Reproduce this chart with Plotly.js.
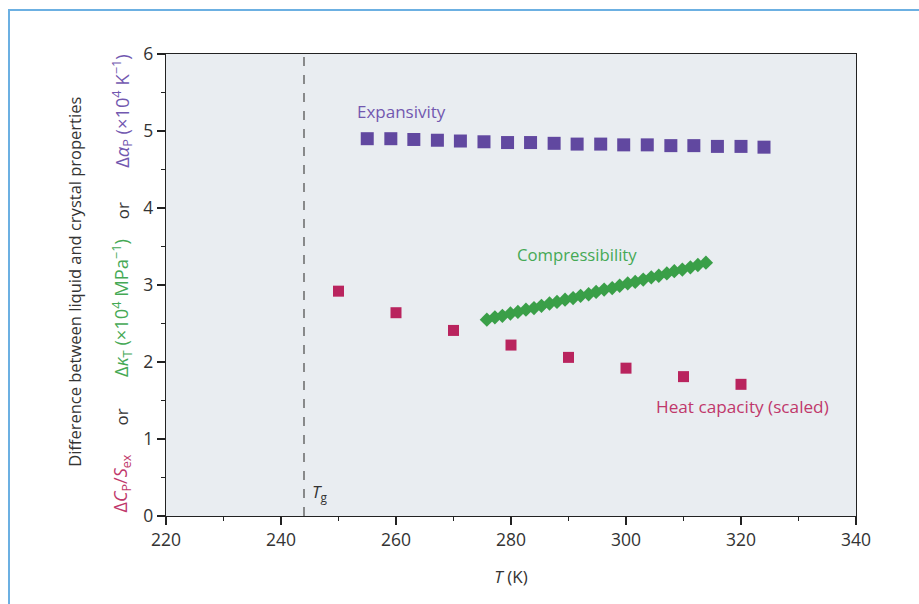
<!DOCTYPE html>
<html>
<head>
<meta charset="utf-8">
<script src="https://cdn.plot.ly/plotly-3.0.1.min.js"></script>
<style>
html,body{margin:0;padding:0;background:#fff;}
#wrap{position:relative;width:919px;height:604px;}
#chart{position:absolute;left:0;top:0;width:919px;height:604px;}
#frame{position:absolute;left:8px;top:9px;width:915px;height:600px;border-left:2px solid #6cb0e2;border-top:2px solid #6cb0e2;pointer-events:none;}
</style>
</head>
<body>
<div id="wrap"><div id="chart"></div><div id="frame"></div></div>
<script>
// Expansivity (purple squares)
var expT = [255, 259.1, 263.1, 267.2, 271.2, 275.3, 279.4, 283.4, 287.5, 291.5, 295.6, 299.6, 303.7, 307.8, 311.8, 315.9, 320.0, 324.0];
var expV = [4.90, 4.90, 4.89, 4.88, 4.87, 4.86, 4.85, 4.85, 4.84, 4.83, 4.83, 4.82, 4.82, 4.81, 4.81, 4.80, 4.80, 4.79];
// Compressibility (green diamonds)
var cmpT = [275.8, 277.2, 278.5, 279.9, 281.2, 282.6, 284.0, 285.3, 286.7, 288.0, 289.4, 290.8, 292.1, 293.5, 294.8, 296.2, 297.6, 298.9, 300.3, 301.6, 303.0, 304.4, 305.7, 307.1, 308.4, 309.8, 311.2, 312.5, 313.9];
var cmpV = [2.55, 2.58, 2.60, 2.63, 2.65, 2.68, 2.70, 2.73, 2.76, 2.78, 2.81, 2.83, 2.86, 2.88, 2.91, 2.94, 2.96, 2.99, 3.02, 3.04, 3.07, 3.10, 3.12, 3.15, 3.18, 3.20, 3.23, 3.26, 3.29];
// Heat capacity, scaled (crimson squares)
var hcT = [250, 260, 270, 280, 290, 300, 310, 320];
var hcV = [2.92, 2.64, 2.41, 2.22, 2.06, 1.92, 1.81, 1.71];
// Glass transition temperature
var Tg = 244;
var xTicks = [220, 240, 260, 280, 300, 320, 340];
var yTicks = [0, 1, 2, 3, 4, 5, 6];

var cPurple = '#6148a0', cGreen = '#3a9f48', cRed = '#b9245e';
var tPurple = '#7258b0', tGreen = '#45a955', tRed = '#c0386b';
var FONT = 'Open Sans, Noto Sans, sans-serif';

var traces = [
  {x: expT, y: expV, mode: 'markers', type: 'scatter', name: 'Expansivity',
   marker: {symbol: 'square', size: 13, color: cPurple}},
  {x: cmpT, y: cmpV, mode: 'markers', type: 'scatter', name: 'Compressibility',
   marker: {symbol: 'diamond', size: 11, color: cGreen}},
  {x: hcT, y: hcV, mode: 'markers', type: 'scatter', name: 'Heat capacity (scaled)',
   marker: {symbol: 'square', size: 11, color: cRed}}
];

function yLab(y, text, color, size) {
  return {x: -0.064, y: y, xref: 'paper', yref: 'y', xanchor: 'center', yanchor: 'middle',
          textangle: -90, showarrow: false, text: text,
          font: {family: FONT, size: size, color: color}};
}

var layout = {
  width: 919, height: 604,
  margin: {l: 166, r: 63, t: 54, b: 88},
  paper_bgcolor: '#ffffff', plot_bgcolor: '#e9edf1',
  showlegend: false,
  font: {family: FONT, size: 17, color: '#333'},
  xaxis: {
    range: [220, 340], tickvals: xTicks, ticktext: xTicks.map(String),
    ticks: 'outside', ticklen: 8, tickwidth: 1.3, tickcolor: '#222',
    minor: {dtick: 10, ticks: 'outside', ticklen: 4, tickwidth: 1.2, tickcolor: '#222'},
    showline: true, linecolor: '#222', linewidth: 1.3, mirror: true,
    showgrid: false, zeroline: false,
    tickfont: {family: FONT, size: 17.5, color: '#333'},
    title: {text: '<i>T</i> (K)', font: {family: FONT, size: 17, color: '#333'}, standoff: 20}
  },
  yaxis: {
    range: [0, 6], tickvals: yTicks, ticktext: yTicks.map(String),
    ticks: 'outside', ticklen: 8, tickwidth: 1.3, tickcolor: '#222',
    minor: {dtick: 0.5, ticks: 'outside', ticklen: 4, tickwidth: 1.2, tickcolor: '#222'},
    showline: true, linecolor: '#222', linewidth: 1.3, mirror: true,
    showgrid: false, zeroline: false,
    tickfont: {family: FONT, size: 17.5, color: '#333'}
  },
  shapes: [
    {type: 'line', xref: 'x', yref: 'y', x0: Tg, x1: Tg, y0: 0, y1: 6,
     line: {color: '#555', width: 1.3, dash: 'dash'}}
  ],
  annotations: [
    {x: 260.9, y: 5.25, xref: 'x', yref: 'y', text: 'Expansivity', showarrow: false,
     font: {family: FONT, size: 17, color: tPurple}},
    {x: 291.5, y: 3.40, xref: 'x', yref: 'y', text: 'Compressibility', showarrow: false,
     font: {family: FONT, size: 16.7, color: tGreen}},
    {x: 320.3, y: 1.42, xref: 'x', yref: 'y', text: 'Heat capacity (scaled)', showarrow: false,
     font: {family: FONT, size: 17.2, color: tRed}},
    {x: Tg + 1.0, y: 0.3, xref: 'x', yref: 'y', xanchor: 'left', text: '<i>T</i><sub>g</sub>', showarrow: false,
     font: {family: FONT, size: 17, color: '#333'}},
    // y-axis title, line 1
    {x: -0.132, y: 3.04, xref: 'paper', yref: 'y', xanchor: 'center', yanchor: 'middle',
     textangle: -90, showarrow: false,
     text: 'Difference between liquid and crystal properties',
     font: {family: FONT, size: 16.5, color: '#333'}},
    // y-axis title, line 2 (coloured parts)
    yLab(0.42, 'Δ<i>C</i><sub>P</sub>/<i>S</i><sub>ex</sub>', tRed, 18),
    yLab(1.29, 'or', '#333', 17),
    yLab(2.70, 'Δ<i>κ</i><sub>T</sub> (×10<sup>4</sup> MPa<sup>−1</sup>)', tGreen, 18.3),
    yLab(3.97, 'or', '#333', 17),
    yLab(5.26, 'Δ<i>α</i><sub>P</sub> (×10<sup>4</sup> K<sup>−1</sup>)', tPurple, 18.3)
  ]
};

Plotly.newPlot('chart', traces, layout, {displayModeBar: false, staticPlot: true});
</script>
</body>
</html>
